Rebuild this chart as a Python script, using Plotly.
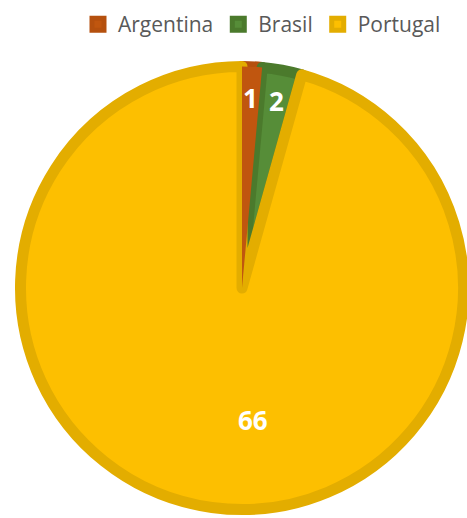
import math
import plotly.graph_objects as go

countries = ["Argentina", "Brasil", "Portugal"]
counts = [1, 2, 66]
fill_colors = ["#C0560F", "#568D38", "#FDBF00"]
edge_colors = ["#B5500E", "#4B7A2C", "#E3AD00"]

W, H = 467, 518
CX, CY, R = 242, 288, 221.5      # pie centre / path radius in pixels
label_r = [0.86, 0.86, 0.6]      # where each value label sits, as a share of R
label_turn = [0, 0, -12.5]       # small angular nudge of the labels, degrees

dom = dict(x=[(CX - R) / W, (CX + R) / W], y=[1 - (CY + R) / H, 1 - (CY - R) / H])

fig = go.Figure()
# base pie with the thick darker rims
fig.add_trace(go.Pie(
    labels=countries,
    values=counts,
    sort=False,
    direction="clockwise",
    rotation=0,
    textinfo="none",
    hoverinfo="label+value",
    marker=dict(colors=fill_colors, line=dict(color=edge_colors, width=11)),
    domain=dom,
))
# redraw the thin Argentina wedge on top so the neighbours' rims don't swallow it
fig.add_trace(go.Pie(
    labels=countries,
    values=counts,
    sort=False,
    direction="clockwise",
    rotation=0,
    textinfo="none",
    hoverinfo="skip",
    showlegend=False,
    marker=dict(colors=[fill_colors[0], "rgba(0,0,0,0)", "rgba(0,0,0,0)"],
                line=dict(width=0)),
    domain=dom,
))

# value labels at the middle angle of each slice
total = sum(counts)
start = 0
for v, f, t in zip(counts, label_r, label_turn):
    mid = math.radians((start + v / 2) / total * 360 + t)
    start += v
    px_ = CX + f * R * math.sin(mid)
    py_ = CY - f * R * math.cos(mid)
    fig.add_annotation(
        x=px_ / W, y=1 - py_ / H, xref="paper", yref="paper",
        xanchor="center", yanchor="middle",
        text=f"<b>{v}</b>", showarrow=False,
        font=dict(family="Open Sans", size=26, color="white"),
    )

fig.update_layout(
    width=W,
    height=H,
    margin=dict(l=0, r=0, t=0, b=0),
    paper_bgcolor="white",
    plot_bgcolor="white",
    font=dict(family="Open Sans", color="#595959"),
    legend=dict(
        orientation="h",
        x=446 / W, xanchor="right",
        y=1 - 4 / H, yanchor="top",
        itemwidth=30,
        font=dict(size=21, color="#595959"),
        bgcolor="rgba(0,0,0,0)",
    ),
)

# drop the browser's default 8px body margin so the figure sits at the window origin
fig.write_html(
    "out.html",
    config={"displayModeBar": False},
    post_script="document.body.style.margin='0';",
)
